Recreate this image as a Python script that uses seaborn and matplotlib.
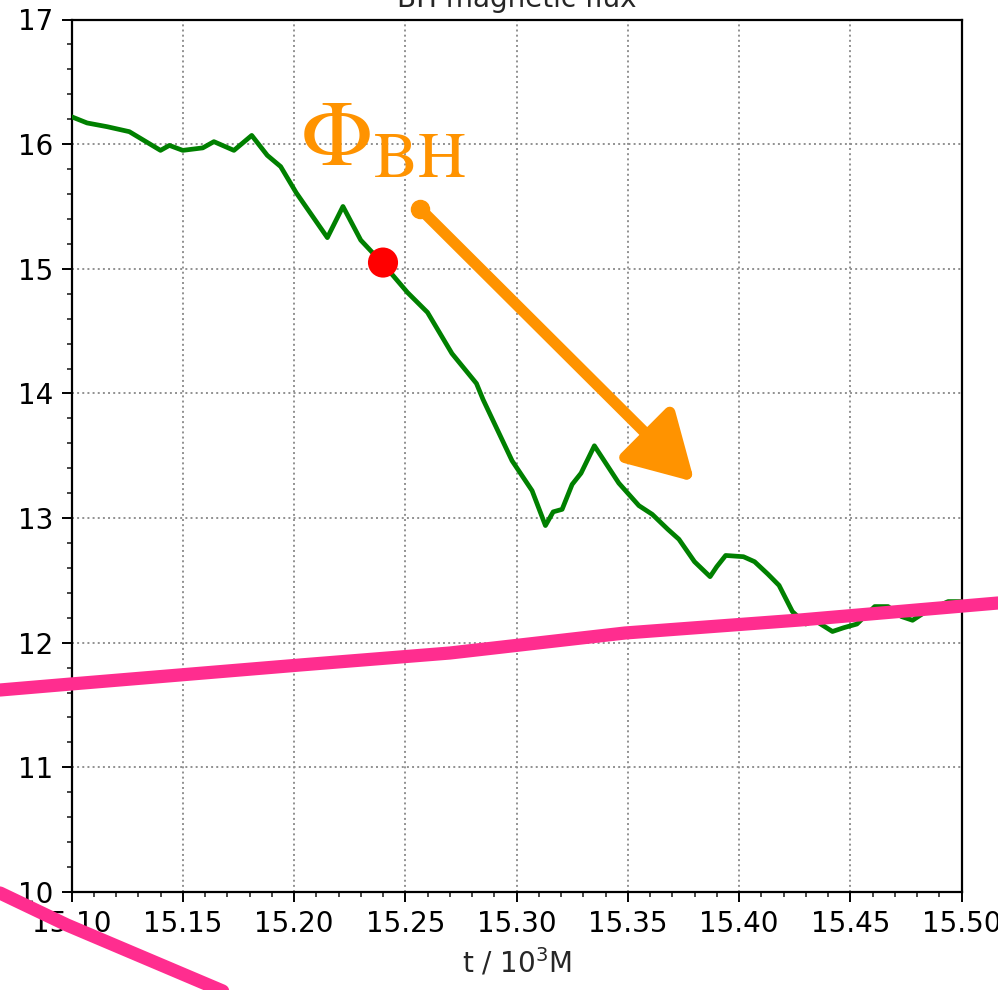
import numpy as np
import pandas as pd
import matplotlib
matplotlib.use("Agg")
import matplotlib.pyplot as plt
from matplotlib.lines import Line2D
from matplotlib.ticker import AutoMinorLocator, FormatStrFormatter
import seaborn as sns

# Magnetic flux through the black-hole horizon versus time
t_vals = [15.100, 15.107, 15.116, 15.126, 15.140, 15.144, 15.150, 15.159, 15.164,
          15.173, 15.181, 15.188, 15.194, 15.201, 15.215, 15.222, 15.230, 15.240,
          15.251, 15.260, 15.271, 15.282, 15.285, 15.298, 15.307, 15.313, 15.3165,
          15.3205, 15.325, 15.329, 15.335, 15.346, 15.355, 15.361, 15.368, 15.373,
          15.380, 15.387, 15.390, 15.394, 15.402, 15.407, 15.413, 15.418, 15.424,
          15.430, 15.434, 15.442, 15.447, 15.453, 15.461, 15.467, 15.473, 15.478,
          15.484, 15.494, 15.500]
phi_vals = [16.22, 16.17, 16.14, 16.10, 15.95, 15.99, 15.95, 15.97, 16.02,
            15.95, 16.07, 15.91, 15.82, 15.61, 15.25, 15.50, 15.23, 15.04,
            14.81, 14.65, 14.32, 14.08, 13.95, 13.46, 13.22, 12.94, 13.05,
            13.07, 13.27, 13.36, 13.58, 13.28, 13.10, 13.03, 12.91, 12.83,
            12.65, 12.53, 12.61, 12.70, 12.69, 12.65, 12.55, 12.46, 12.25,
            12.15, 12.18, 12.09, 12.12, 12.15, 12.29, 12.29, 12.21, 12.18,
            12.25, 12.33, 12.33]

# current-time marker
marker_t = [15.24]
marker_phi = [15.05]

x_ticks = [15.10, 15.15, 15.20, 15.25, 15.30, 15.35, 15.40, 15.45, 15.50]
y_ticks = [10, 11, 12, 13, 14, 15, 16, 17]

df = pd.DataFrame({"t": t_vals, "phi": phi_vals})
dot = pd.DataFrame({"t": marker_t, "phi": marker_phi})

sns.set_style("ticks")
plt.rcParams["font.family"] = ["DejaVu Sans"]
plt.rcParams["mathtext.fontset"] = "dejavusans"

W, H = 998, 990
fig = plt.figure(figsize=(W / 100, H / 100), dpi=100)
ax = fig.add_axes([71.5 / W, (H - 892) / H, 890 / W, 872.5 / H])

sns.lineplot(data=df, x="t", y="phi", color="green", lw=3.4, ax=ax, zorder=3)
sns.scatterplot(data=dot, x="t", y="phi", color="red", s=470, edgecolor="none",
                ax=ax, zorder=4)

ax.set_xlim(15.10, 15.50)
ax.set_ylim(10, 17)
ax.set_xticks(x_ticks)
ax.set_yticks(y_ticks)
ax.xaxis.set_major_formatter(FormatStrFormatter("%.2f"))
ax.yaxis.set_major_formatter(FormatStrFormatter("%d"))
ax.xaxis.set_minor_locator(AutoMinorLocator(5))
ax.yaxis.set_minor_locator(AutoMinorLocator(5))
ax.tick_params(which="major", direction="out", length=7, width=1.4,
               labelsize=20, pad=6, colors="black")
ax.tick_params(which="minor", direction="out", length=3.6, width=1.2)
for s in ax.spines.values():
    s.set_visible(True)
    s.set_linewidth(1.6)
    s.set_color("black")

ax.grid(True, which="major", ls=":", lw=1.4, color="#909090")
ax.set_axisbelow(True)

ax.set_xlabel("t / 10$^3$M", fontsize=20, labelpad=6)
ax.set_ylabel("")
ax.set_title("BH magnetic flux", fontsize=20, pad=9)

# annotation: flux label and downward arrow
orange = "#ff9300"
ax.text(15.2025, 15.83, r"$\Phi_{\mathrm{BH}}$", color=orange, fontsize=68,
        math_fontfamily="stix", va="baseline", ha="left", zorder=5)
arrow_start = (15.2568, 15.48)
arrow_tip = (15.380, 13.29)
ax.annotate("", xy=arrow_tip, xytext=arrow_start,
            arrowprops=dict(arrowstyle="-|>,head_length=2.0,head_width=1.15",
                            mutation_scale=20, lw=8, color=orange,
                            shrinkA=0, shrinkB=0, capstyle="round",
                            joinstyle="round"),
            zorder=5)
ax.plot([arrow_start[0]], [arrow_start[1]], "o", color=orange, ms=13, zorder=5)

# freehand pink strokes over the figure
pink = "#ff2d8f"
stroke_a = [(0, 690), (71, 684), (300, 665), (450, 653), (625, 633), (800, 620), (998, 603)]
stroke_b = [(0, 893), (67, 925), (133, 953), (225, 992)]
for stroke in (stroke_a, stroke_b):
    xs = [p[0] / W for p in stroke]
    ys = [1 - p[1] / H for p in stroke]
    fig.add_artist(Line2D(xs, ys, transform=fig.transFigure, color=pink, lw=9.5,
                          solid_capstyle="round", solid_joinstyle="round",
                          zorder=10))

fig.savefig("out.png", dpi=100)
